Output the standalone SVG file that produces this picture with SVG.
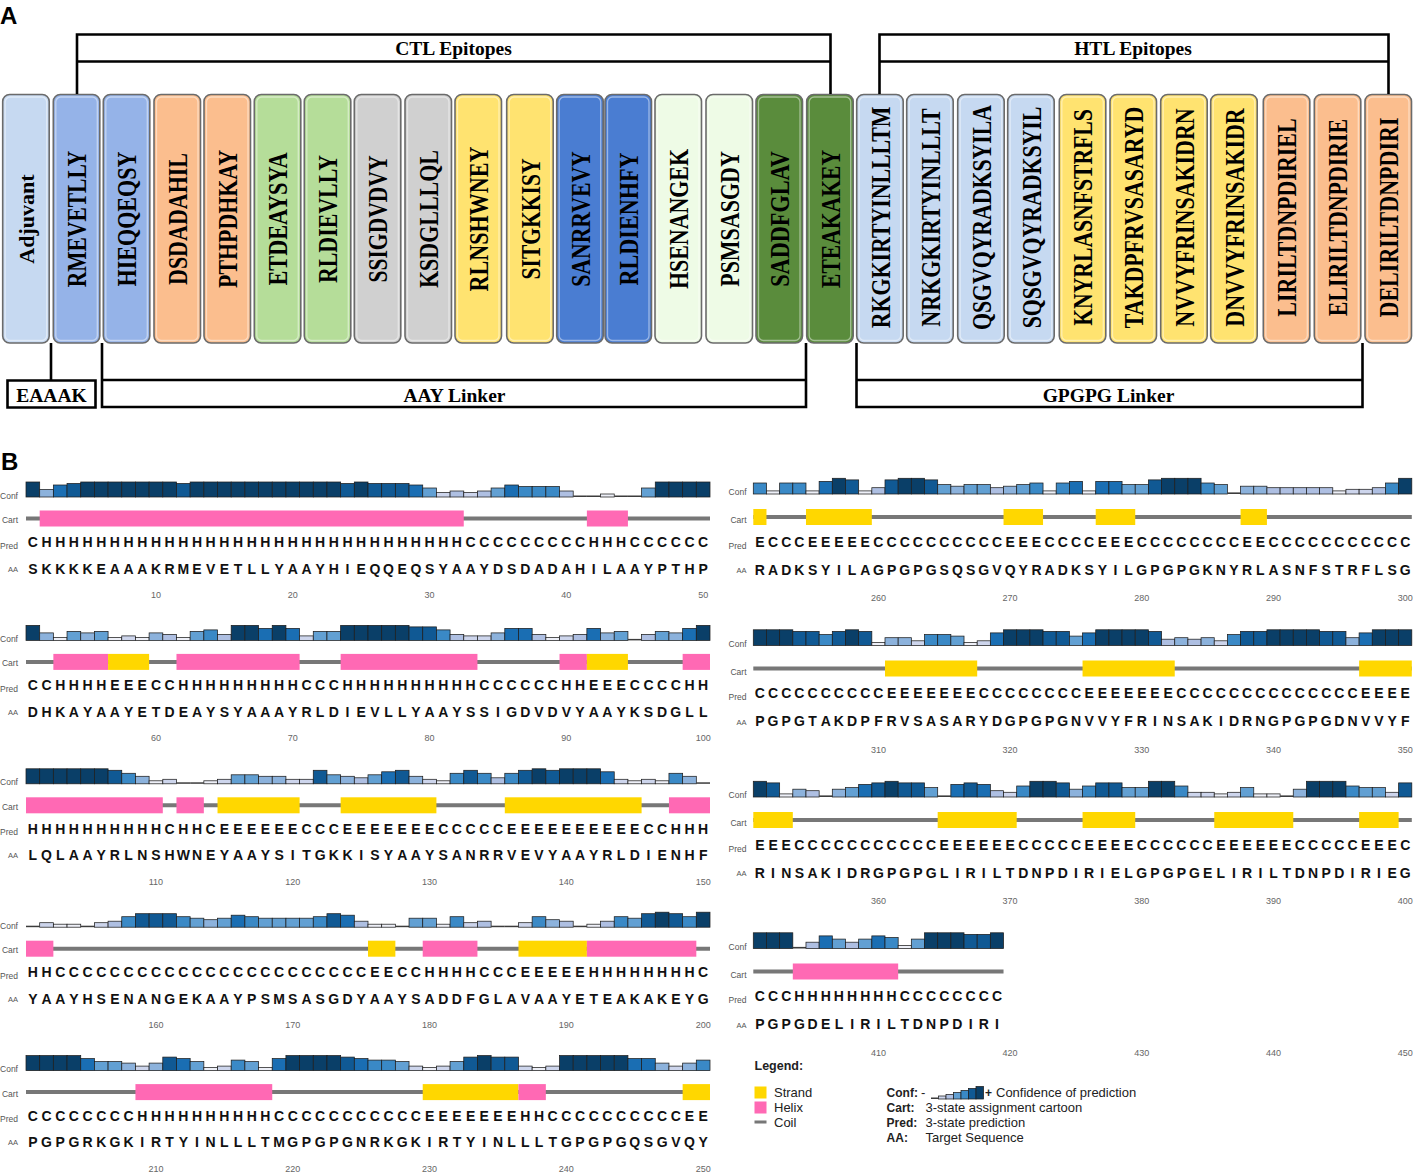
<svg xmlns="http://www.w3.org/2000/svg" width="1413" height="1172" viewBox="0 0 1413 1172">
<style>
text{font-family:"Liberation Sans",Arial,sans-serif}
.pl{font-weight:bold;font-size:24px;fill:#000}
.box{stroke:#6b6b6b;stroke-width:1.6}
.hl{fill:none;stroke:#fff;stroke-opacity:.45;stroke-width:1.3}
.ep{font-family:"Liberation Serif","Times New Roman",serif;font-weight:bold;font-size:27px;fill:#000;text-anchor:middle}
.br{fill:none;stroke:#000;stroke-width:2.6}
.bt{font-family:"Liberation Serif","Times New Roman",serif;font-weight:bold;font-size:19.5px;fill:#000;text-anchor:middle}
.lb{font-size:8.5px;fill:#555;text-anchor:end}
.seq{font-size:14px;font-weight:bold;fill:#111;text-anchor:middle}
.tk{font-size:9px;fill:#666;text-anchor:middle}
.coil{stroke:#777;stroke-width:4}
.hx{fill:#ff69b4}
.sd{fill:#ffd700}
.k0{fill:#3c3c3c}
.k1,.k2,.k3,.k4,.k5,.k6,.k7,.k8,.k9{stroke:#1e1e1e;stroke-width:.75}
.k1{fill:#eef0f8}.k2{fill:#cdd5ec}.k3{fill:#aebfe2}.k4{fill:#8cb2dc}.k5{fill:#62a0d3}
.k6{fill:#3a89c6}.k7{fill:#1a6eb3}.k8{fill:#105994}.k9{fill:#0a3f68}
.lg{font-size:13px;fill:#222}
.lgb{font-size:12px;fill:#222;font-weight:bold}
</style>
<defs>
<rect id="a0" class="k0" y="-1.5" width="13.68" height="1.5"/>
<rect id="a1" class="k1" y="-3" width="13.68" height="3"/>
<rect id="a2" class="k2" y="-4.5" width="13.68" height="4.5"/>
<rect id="a3" class="k3" y="-6" width="13.68" height="6"/>
<rect id="a4" class="k4" y="-7.5" width="13.68" height="7.5"/>
<rect id="a5" class="k5" y="-9" width="13.68" height="9"/>
<rect id="a6" class="k6" y="-10.5" width="13.68" height="10.5"/>
<rect id="a7" class="k7" y="-12" width="13.68" height="12"/>
<rect id="a8" class="k8" y="-13.5" width="13.68" height="13.5"/>
<rect id="a9" class="k9" y="-15" width="13.68" height="15"/>
<rect id="b0" class="k0" y="-1.6" width="13.17" height="1.6"/>
<rect id="b1" class="k1" y="-3.1" width="13.17" height="3.1"/>
<rect id="b2" class="k2" y="-4.7" width="13.17" height="4.7"/>
<rect id="b3" class="k3" y="-6.3" width="13.17" height="6.3"/>
<rect id="b4" class="k4" y="-7.8" width="13.17" height="7.8"/>
<rect id="b5" class="k5" y="-9.4" width="13.17" height="9.4"/>
<rect id="b6" class="k6" y="-11" width="13.17" height="11"/>
<rect id="b7" class="k7" y="-12.6" width="13.17" height="12.6"/>
<rect id="b8" class="k8" y="-14.1" width="13.17" height="14.1"/>
<rect id="b9" class="k9" y="-15.7" width="13.17" height="15.7"/>
</defs>
<rect width="1413" height="1172" fill="#fff"/>

<text class="pl" x="0" y="24">A</text>
<text class="pl" x="1" y="470">B</text>

<!-- Part A nodes -->
<g id="node-adjuvant"><rect class="box" x="2.7" y="94.5" width="46.5" height="248.5" rx="7" fill="#c6d9f1"/><rect class="hl" x="5.2" y="97" width="41.5" height="243.5" rx="5"/><text class="ep" style="font-size:22px" transform="translate(33.5,219) rotate(-90)">Adjuvant</text></g>
<g id="node-RMEVETLLY"><rect class="box" x="53.3" y="94.5" width="46.5" height="248.5" rx="7" fill="#95b3e8"/><rect class="hl" x="55.8" y="97" width="41.5" height="243.5" rx="5"/><text class="ep" transform="translate(86.2,219) rotate(-90)" textLength="136.6" lengthAdjust="spacingAndGlyphs">RMEVETLLY</text></g>
<g id="node-HIEQQEQSY"><rect class="box" x="103.3" y="94.5" width="46.5" height="248.5" rx="7" fill="#95b3e8"/><rect class="hl" x="105.8" y="97" width="41.5" height="243.5" rx="5"/><text class="ep" transform="translate(136.2,219) rotate(-90)" textLength="135" lengthAdjust="spacingAndGlyphs">HIEQQEQSY</text></g>
<g id="node-DSDADAHIL"><rect class="box" x="154" y="94.5" width="46.5" height="248.5" rx="7" fill="#fbbe8e"/><rect class="hl" x="156.5" y="97" width="41.5" height="243.5" rx="5"/><text class="ep" transform="translate(186.9,219) rotate(-90)" textLength="132" lengthAdjust="spacingAndGlyphs">DSDADAHIL</text></g>
<g id="node-PTHPDHKAY"><rect class="box" x="204" y="94.5" width="46.5" height="248.5" rx="7" fill="#fbbe8e"/><rect class="hl" x="206.5" y="97" width="41.5" height="243.5" rx="5"/><text class="ep" transform="translate(236.9,219) rotate(-90)" textLength="138" lengthAdjust="spacingAndGlyphs">PTHPDHKAY</text></g>
<g id="node-ETDEAYSYA"><rect class="box" x="254.3" y="94.5" width="46.5" height="248.5" rx="7" fill="#b5dd99"/><rect class="hl" x="256.8" y="97" width="41.5" height="243.5" rx="5"/><text class="ep" transform="translate(287.2,219) rotate(-90)" textLength="133" lengthAdjust="spacingAndGlyphs">ETDEAYSYA</text></g>
<g id="node-RLDIEVLLY"><rect class="box" x="304.3" y="94.5" width="46.5" height="248.5" rx="7" fill="#b5dd99"/><rect class="hl" x="306.8" y="97" width="41.5" height="243.5" rx="5"/><text class="ep" transform="translate(337.2,219) rotate(-90)" textLength="128" lengthAdjust="spacingAndGlyphs">RLDIEVLLY</text></g>
<g id="node-SSIGDVDVY"><rect class="box" x="354.3" y="94.5" width="46.5" height="248.5" rx="7" fill="#d0d0d0"/><rect class="hl" x="356.8" y="97" width="41.5" height="243.5" rx="5"/><text class="ep" transform="translate(387.2,219) rotate(-90)" textLength="127" lengthAdjust="spacingAndGlyphs">SSIGDVDVY</text></g>
<g id="node-KSDGLLLQL"><rect class="box" x="405" y="94.5" width="46.5" height="248.5" rx="7" fill="#d0d0d0"/><rect class="hl" x="407.5" y="97" width="41.5" height="243.5" rx="5"/><text class="ep" transform="translate(437.9,219) rotate(-90)" textLength="138" lengthAdjust="spacingAndGlyphs">KSDGLLLQL</text></g>
<g id="node-RLNSHWNEY"><rect class="box" x="455" y="94.5" width="46.5" height="248.5" rx="7" fill="#ffe370"/><rect class="hl" x="457.5" y="97" width="41.5" height="243.5" rx="5"/><text class="ep" transform="translate(487.9,219) rotate(-90)" textLength="145" lengthAdjust="spacingAndGlyphs">RLNSHWNEY</text></g>
<g id="node-SITGKKISY"><rect class="box" x="506.7" y="94.5" width="46.5" height="248.5" rx="7" fill="#ffe370"/><rect class="hl" x="509.2" y="97" width="41.5" height="243.5" rx="5"/><text class="ep" transform="translate(539.6,219) rotate(-90)" textLength="121" lengthAdjust="spacingAndGlyphs">SITGKKISY</text></g>
<g id="node-SANRRVEVY"><rect class="box" x="556.7" y="94.5" width="46.5" height="248.5" rx="7" fill="#4a7dd2"/><rect class="hl" x="559.2" y="97" width="41.5" height="243.5" rx="5"/><text class="ep" transform="translate(589.6,219) rotate(-90)" textLength="135.6" lengthAdjust="spacingAndGlyphs">SANRRVEVY</text></g>
<g id="node-RLDIENHFY"><rect class="box" x="605" y="94.5" width="46.5" height="248.5" rx="7" fill="#4a7dd2"/><rect class="hl" x="607.5" y="97" width="41.5" height="243.5" rx="5"/><text class="ep" transform="translate(637.9,219) rotate(-90)" textLength="133" lengthAdjust="spacingAndGlyphs">RLDIENHFY</text></g>
<g id="node-HSENANGEK"><rect class="box" x="655" y="94.5" width="46.5" height="248.5" rx="7" fill="#eefbe6"/><rect class="hl" x="657.5" y="97" width="41.5" height="243.5" rx="5"/><text class="ep" transform="translate(687.9,219) rotate(-90)" textLength="140" lengthAdjust="spacingAndGlyphs">HSENANGEK</text></g>
<g id="node-PSMSASGDY"><rect class="box" x="706" y="94.5" width="46.5" height="248.5" rx="7" fill="#eefbe6"/><rect class="hl" x="708.5" y="97" width="41.5" height="243.5" rx="5"/><text class="ep" transform="translate(738.9,219) rotate(-90)" textLength="135.6" lengthAdjust="spacingAndGlyphs">PSMSASGDY</text></g>
<g id="node-SADDFGLAV"><rect class="box" x="756" y="94.5" width="46.5" height="248.5" rx="7" fill="#5a8c3c"/><rect class="hl" x="758.5" y="97" width="41.5" height="243.5" rx="5"/><text class="ep" transform="translate(788.9,219) rotate(-90)" textLength="135.6" lengthAdjust="spacingAndGlyphs">SADDFGLAV</text></g>
<g id="node-ETEAKAKEY"><rect class="box" x="806.7" y="94.5" width="46.5" height="248.5" rx="7" fill="#5a8c3c"/><rect class="hl" x="809.2" y="97" width="41.5" height="243.5" rx="5"/><text class="ep" transform="translate(839.6,219) rotate(-90)" textLength="138" lengthAdjust="spacingAndGlyphs">ETEAKAKEY</text></g>
<g id="node-RKGKIRTYINLLLTM"><rect class="box" x="856.7" y="94.5" width="46.5" height="248.5" rx="7" fill="#c6d9f1"/><rect class="hl" x="859.2" y="97" width="41.5" height="243.5" rx="5"/><text class="ep" transform="translate(889.6,217.5) rotate(-90)" textLength="221.7" lengthAdjust="spacingAndGlyphs">RKGKIRTYINLLLTM</text></g>
<g id="node-NRKGKIRTYINLLLT"><rect class="box" x="906.7" y="94.5" width="46.5" height="248.5" rx="7" fill="#c6d9f1"/><rect class="hl" x="909.2" y="97" width="41.5" height="243.5" rx="5"/><text class="ep" transform="translate(939.6,217.5) rotate(-90)" textLength="218.3" lengthAdjust="spacingAndGlyphs">NRKGKIRTYINLLLT</text></g>
<g id="node-QSGVQYRADKSYILA"><rect class="box" x="957.7" y="94.5" width="46.5" height="248.5" rx="7" fill="#c6d9f1"/><rect class="hl" x="960.2" y="97" width="41.5" height="243.5" rx="5"/><text class="ep" transform="translate(990.6,217.5) rotate(-90)" textLength="225" lengthAdjust="spacingAndGlyphs">QSGVQYRADKSYILA</text></g>
<g id="node-SQSGVQYRADKSYIL"><rect class="box" x="1007.7" y="94.5" width="46.5" height="248.5" rx="7" fill="#c6d9f1"/><rect class="hl" x="1010.2" y="97" width="41.5" height="243.5" rx="5"/><text class="ep" transform="translate(1040.6,217.5) rotate(-90)" textLength="221.7" lengthAdjust="spacingAndGlyphs">SQSGVQYRADKSYIL</text></g>
<g id="node-KNYRLASNFSTRFLS"><rect class="box" x="1059.3" y="94.5" width="46.5" height="248.5" rx="7" fill="#ffe370"/><rect class="hl" x="1061.8" y="97" width="41.5" height="243.5" rx="5"/><text class="ep" transform="translate(1092.2,217.5) rotate(-90)" textLength="216.7" lengthAdjust="spacingAndGlyphs">KNYRLASNFSTRFLS</text></g>
<g id="node-TAKDPFRVSASARYD"><rect class="box" x="1110" y="94.5" width="46.5" height="248.5" rx="7" fill="#ffe370"/><rect class="hl" x="1112.5" y="97" width="41.5" height="243.5" rx="5"/><text class="ep" transform="translate(1142.9,217.5) rotate(-90)" textLength="221.7" lengthAdjust="spacingAndGlyphs">TAKDPFRVSASARYD</text></g>
<g id="node-NVVYFRINSAKIDRN"><rect class="box" x="1160.7" y="94.5" width="46.5" height="248.5" rx="7" fill="#ffe370"/><rect class="hl" x="1163.2" y="97" width="41.5" height="243.5" rx="5"/><text class="ep" transform="translate(1193.6,217.5) rotate(-90)" textLength="218.3" lengthAdjust="spacingAndGlyphs">NVVYFRINSAKIDRN</text></g>
<g id="node-DNVVYFRINSAKIDR"><rect class="box" x="1210.7" y="94.5" width="46.5" height="248.5" rx="7" fill="#ffe370"/><rect class="hl" x="1213.2" y="97" width="41.5" height="243.5" rx="5"/><text class="ep" transform="translate(1243.6,217.5) rotate(-90)" textLength="218.3" lengthAdjust="spacingAndGlyphs">DNVVYFRINSAKIDR</text></g>
<g id="node-LIRILTDNPDIRIEL"><rect class="box" x="1263.3" y="94.5" width="46.5" height="248.5" rx="7" fill="#fbbe8e"/><rect class="hl" x="1265.8" y="97" width="41.5" height="243.5" rx="5"/><text class="ep" transform="translate(1296.2,217.5) rotate(-90)" textLength="198.3" lengthAdjust="spacingAndGlyphs">LIRILTDNPDIRIEL</text></g>
<g id="node-ELIRILTDNPDIRIE"><rect class="box" x="1314.3" y="94.5" width="46.5" height="248.5" rx="7" fill="#fbbe8e"/><rect class="hl" x="1316.8" y="97" width="41.5" height="243.5" rx="5"/><text class="ep" transform="translate(1347.2,217.5) rotate(-90)" textLength="197.3" lengthAdjust="spacingAndGlyphs">ELIRILTDNPDIRIE</text></g>
<g id="node-DELIRILTDNPDIRI"><rect class="box" x="1365" y="94.5" width="46.5" height="248.5" rx="7" fill="#fbbe8e"/><rect class="hl" x="1367.5" y="97" width="41.5" height="243.5" rx="5"/><text class="ep" transform="translate(1397.9,217.5) rotate(-90)" textLength="200" lengthAdjust="spacingAndGlyphs">DELIRILTDNPDIRI</text></g>

<!-- Part A connectors / brackets -->
<g id="connectors">
<path class="br" d="M77,94 V34.5 H830.5 V94 M77,61.5 H830.5"/>
<path class="br" d="M879.5,94 V34.5 H1388.5 V94 M879.5,61.5 H1388.5"/>
<path class="br" d="M51,343 V380.5 M7.5,380.5 H95.5 V407.5 H7.5 Z"/>
<path class="br" d="M102,343 V407 H806 V343 M102,380 H806"/>
<path class="br" d="M856.5,343 V407 H1362.5 V343 M856.5,380 H1362.5"/>
<text class="bt" x="453.5" y="54.5">CTL Epitopes</text>
<text class="bt" x="1133" y="54.5">HTL Epitopes</text>
<text class="bt" x="51.5" y="401.5">EAAAK</text>
<text class="bt" x="454.5" y="401.5">AAY Linker</text>
<text class="bt" x="1108.5" y="401.5">GPGPG Linker</text>
</g>

<!-- Part B rows, left column -->
<g id="row-1-50" transform="translate(26,497)">
<text class="lb" x="-8" y="1.5">Conf</text><text class="lb" x="-8" y="26">Cart</text><text class="lb" x="-8" y="51.5">Pred</text><text class="lb" x="-8" y="74.5" style="font-size:7.5px">AA</text>
<use href="#a9" x="0"/><use href="#a4" x="13.68"/><use href="#a7" x="27.36"/><use href="#a8" x="41.04"/><use href="#a9" x="54.72"/><use href="#a9" x="68.4"/><use href="#a9" x="82.08"/><use href="#a9" x="95.76"/><use href="#a9" x="109.44"/><use href="#a9" x="123.12"/>
<use href="#a9" x="136.8"/><use href="#a8" x="150.48"/><use href="#a9" x="164.16"/><use href="#a9" x="177.84"/><use href="#a9" x="191.52"/><use href="#a9" x="205.2"/><use href="#a9" x="218.88"/><use href="#a9" x="232.56"/><use href="#a9" x="246.24"/><use href="#a9" x="259.92"/>
<use href="#a9" x="273.6"/><use href="#a9" x="287.28"/><use href="#a9" x="300.96"/><use href="#a8" x="314.64"/><use href="#a9" x="328.32"/><use href="#a8" x="342"/><use href="#a8" x="355.68"/><use href="#a8" x="369.36"/><use href="#a7" x="383.04"/><use href="#a5" x="396.72"/>
<use href="#a2" x="410.4"/><use href="#a3" x="424.08"/><use href="#a2" x="437.76"/><use href="#a3" x="451.44"/><use href="#a5" x="465.12"/><use href="#a7" x="478.8"/><use href="#a6" x="492.48"/><use href="#a6" x="506.16"/><use href="#a6" x="519.84"/><use href="#a3" x="533.52"/>
<use href="#a0" x="547.2"/><use href="#a0" x="560.88"/><use href="#a1" x="574.56"/><use href="#a0" x="588.24"/><use href="#a0" x="601.92"/><use href="#a5" x="615.6"/><use href="#a9" x="629.28"/><use href="#a9" x="642.96"/><use href="#a9" x="656.64"/><use href="#a9" x="670.32"/>
<line class="coil" x1="0" y1="21.5" x2="684" y2="21.5"/>
<rect class="hx" x="13.68" y="13.5" width="424.08" height="16"/><rect class="hx" x="560.88" y="13.5" width="41.04" height="16"/>
<text class="seq" y="50" x="6.84 20.52 34.2 47.88 61.56 75.24 88.92 102.6 116.28 129.96 143.64 157.32 171 184.68 198.36 212.04 225.72 239.4 253.08 266.76 280.44 294.12 307.8 321.48 335.16 348.84 362.52 376.2 389.88 403.56 417.24 430.92 444.6 458.28 471.96 485.64 499.32 513 526.68 540.36 554.04 567.72 581.4 595.08 608.76 622.44 636.12 649.8 663.48 677.16">CHHHHHHHHHHHHHHHHHHHHHHHHHHHHHHHCCCCCCCCCHHHCCCCCC</text>
<text class="seq" y="76.5" x="6.84 20.52 34.2 47.88 61.56 75.24 88.92 102.6 116.28 129.96 143.64 157.32 171 184.68 198.36 212.04 225.72 239.4 253.08 266.76 280.44 294.12 307.8 321.48 335.16 348.84 362.52 376.2 389.88 403.56 417.24 430.92 444.6 458.28 471.96 485.64 499.32 513 526.68 540.36 554.04 567.72 581.4 595.08 608.76 622.44 636.12 649.8 663.48 677.16">SKKKKEAAAKRMEVETLLYAAYHIEQQEQSYAAYDSDADAHILAAYPTHP</text>
<text class="tk" x="129.96" y="101">10</text><text class="tk" x="266.76" y="101">20</text><text class="tk" x="403.56" y="101">30</text><text class="tk" x="540.36" y="101">40</text><text class="tk" x="677.16" y="101">50</text>
</g>

<g id="row-51-100" transform="translate(26,640.4)">
<text class="lb" x="-8" y="1.5">Conf</text><text class="lb" x="-8" y="26">Cart</text><text class="lb" x="-8" y="51.5">Pred</text><text class="lb" x="-8" y="74.5" style="font-size:7.5px">AA</text>
<use href="#a9" x="0"/><use href="#a4" x="13.68"/><use href="#a1" x="27.36"/><use href="#a5" x="41.04"/><use href="#a4" x="54.72"/><use href="#a5" x="68.4"/><use href="#a1" x="82.08"/><use href="#a2" x="95.76"/><use href="#a1" x="109.44"/><use href="#a4" x="123.12"/>
<use href="#a3" x="136.8"/><use href="#a1" x="150.48"/><use href="#a5" x="164.16"/><use href="#a6" x="177.84"/><use href="#a3" x="191.52"/><use href="#a9" x="205.2"/><use href="#a9" x="218.88"/><use href="#a7" x="232.56"/><use href="#a9" x="246.24"/><use href="#a7" x="259.92"/>
<use href="#a2" x="273.6"/><use href="#a5" x="287.28"/><use href="#a5" x="300.96"/><use href="#a9" x="314.64"/><use href="#a9" x="328.32"/><use href="#a9" x="342"/><use href="#a9" x="355.68"/><use href="#a9" x="369.36"/><use href="#a8" x="383.04"/><use href="#a8" x="396.72"/>
<use href="#a6" x="410.4"/><use href="#a3" x="424.08"/><use href="#a2" x="437.76"/><use href="#a2" x="451.44"/><use href="#a4" x="465.12"/><use href="#a7" x="478.8"/><use href="#a7" x="492.48"/><use href="#a3" x="506.16"/><use href="#a1" x="519.84"/><use href="#a2" x="533.52"/>
<use href="#a3" x="547.2"/><use href="#a7" x="560.88"/><use href="#a4" x="574.56"/><use href="#a5" x="588.24"/><use href="#a0" x="601.92"/><use href="#a3" x="615.6"/><use href="#a5" x="629.28"/><use href="#a4" x="642.96"/><use href="#a7" x="656.64"/><use href="#a9" x="670.32"/>
<line class="coil" x1="0" y1="21.5" x2="684" y2="21.5"/>
<rect class="hx" x="27.36" y="13.5" width="54.72" height="16"/><rect class="sd" x="82.08" y="13.5" width="41.04" height="16"/><rect class="hx" x="150.48" y="13.5" width="123.12" height="16"/><rect class="hx" x="314.64" y="13.5" width="136.8" height="16"/><rect class="hx" x="533.52" y="13.5" width="27.36" height="16"/><rect class="sd" x="560.88" y="13.5" width="41.04" height="16"/><rect class="hx" x="656.64" y="13.5" width="27.36" height="16"/>
<text class="seq" y="50" x="6.84 20.52 34.2 47.88 61.56 75.24 88.92 102.6 116.28 129.96 143.64 157.32 171 184.68 198.36 212.04 225.72 239.4 253.08 266.76 280.44 294.12 307.8 321.48 335.16 348.84 362.52 376.2 389.88 403.56 417.24 430.92 444.6 458.28 471.96 485.64 499.32 513 526.68 540.36 554.04 567.72 581.4 595.08 608.76 622.44 636.12 649.8 663.48 677.16">CCHHHHEEECCHHHHHHHHHCCCHHHHHHHHHHCCCCCCHHEEECCCCHH</text>
<text class="seq" y="76.5" x="6.84 20.52 34.2 47.88 61.56 75.24 88.92 102.6 116.28 129.96 143.64 157.32 171 184.68 198.36 212.04 225.72 239.4 253.08 266.76 280.44 294.12 307.8 321.48 335.16 348.84 362.52 376.2 389.88 403.56 417.24 430.92 444.6 458.28 471.96 485.64 499.32 513 526.68 540.36 554.04 567.72 581.4 595.08 608.76 622.44 636.12 649.8 663.48 677.16">DHKAYAAYETDEAYSYAAAYRLDIEVLLYAAYSSIGDVDVYAAYKSDGLL</text>
<text class="tk" x="129.96" y="101">60</text><text class="tk" x="266.76" y="101">70</text><text class="tk" x="403.56" y="101">80</text><text class="tk" x="540.36" y="101">90</text><text class="tk" x="677.16" y="101">100</text>
</g>

<g id="row-101-150" transform="translate(26,783.8)">
<text class="lb" x="-8" y="1.5">Conf</text><text class="lb" x="-8" y="26">Cart</text><text class="lb" x="-8" y="51.5">Pred</text><text class="lb" x="-8" y="74.5" style="font-size:7.5px">AA</text>
<use href="#a9" x="0"/><use href="#a9" x="13.68"/><use href="#a9" x="27.36"/><use href="#a9" x="41.04"/><use href="#a9" x="54.72"/><use href="#a9" x="68.4"/><use href="#a8" x="82.08"/><use href="#a6" x="95.76"/><use href="#a4" x="109.44"/><use href="#a1" x="123.12"/>
<use href="#a2" x="136.8"/><use href="#a0" x="150.48"/><use href="#a0" x="164.16"/><use href="#a1" x="177.84"/><use href="#a2" x="191.52"/><use href="#a5" x="205.2"/><use href="#a5" x="218.88"/><use href="#a4" x="232.56"/><use href="#a4" x="246.24"/><use href="#a2" x="259.92"/>
<use href="#a2" x="273.6"/><use href="#a8" x="287.28"/><use href="#a5" x="300.96"/><use href="#a4" x="314.64"/><use href="#a3" x="328.32"/><use href="#a5" x="342"/><use href="#a7" x="355.68"/><use href="#a8" x="369.36"/><use href="#a4" x="383.04"/><use href="#a2" x="396.72"/>
<use href="#a1" x="410.4"/><use href="#a6" x="424.08"/><use href="#a8" x="437.76"/><use href="#a6" x="451.44"/><use href="#a3" x="465.12"/><use href="#a6" x="478.8"/><use href="#a8" x="492.48"/><use href="#a9" x="506.16"/><use href="#a8" x="519.84"/><use href="#a9" x="533.52"/>
<use href="#a9" x="547.2"/><use href="#a9" x="560.88"/><use href="#a7" x="574.56"/><use href="#a2" x="588.24"/><use href="#a1" x="601.92"/><use href="#a2" x="615.6"/><use href="#a1" x="629.28"/><use href="#a6" x="642.96"/><use href="#a4" x="656.64"/><use href="#a0" x="670.32"/>
<line class="coil" x1="0" y1="21.5" x2="684" y2="21.5"/>
<rect class="hx" x="0" y="13.5" width="136.8" height="16"/><rect class="hx" x="150.48" y="13.5" width="27.36" height="16"/><rect class="sd" x="191.52" y="13.5" width="82.08" height="16"/><rect class="sd" x="314.64" y="13.5" width="95.76" height="16"/><rect class="sd" x="478.8" y="13.5" width="136.8" height="16"/><rect class="hx" x="642.96" y="13.5" width="41.04" height="16"/>
<text class="seq" y="50" x="6.84 20.52 34.2 47.88 61.56 75.24 88.92 102.6 116.28 129.96 143.64 157.32 171 184.68 198.36 212.04 225.72 239.4 253.08 266.76 280.44 294.12 307.8 321.48 335.16 348.84 362.52 376.2 389.88 403.56 417.24 430.92 444.6 458.28 471.96 485.64 499.32 513 526.68 540.36 554.04 567.72 581.4 595.08 608.76 622.44 636.12 649.8 663.48 677.16">HHHHHHHHHHCHHCEEEEEECCCEEEEEEECCCCCEEEEEEEEEECCHHH</text>
<text class="seq" y="76.5" x="6.84 20.52 34.2 47.88 61.56 75.24 88.92 102.6 116.28 129.96 143.64 157.32 171 184.68 198.36 212.04 225.72 239.4 253.08 266.76 280.44 294.12 307.8 321.48 335.16 348.84 362.52 376.2 389.88 403.56 417.24 430.92 444.6 458.28 471.96 485.64 499.32 513 526.68 540.36 554.04 567.72 581.4 595.08 608.76 622.44 636.12 649.8 663.48 677.16">LQLAAYRLNSHWNEYAAYSITGKKISYAAYSANRRVEVYAAYRLDIENHF</text>
<text class="tk" x="129.96" y="101">110</text><text class="tk" x="266.76" y="101">120</text><text class="tk" x="403.56" y="101">130</text><text class="tk" x="540.36" y="101">140</text><text class="tk" x="677.16" y="101">150</text>
</g>

<g id="row-151-200" transform="translate(26,927.2)">
<text class="lb" x="-8" y="1.5">Conf</text><text class="lb" x="-8" y="26">Cart</text><text class="lb" x="-8" y="51.5">Pred</text><text class="lb" x="-8" y="74.5" style="font-size:7.5px">AA</text>
<use href="#a0" x="0"/><use href="#a2" x="13.68"/><use href="#a1" x="27.36"/><use href="#a1" x="41.04"/><use href="#a0" x="54.72"/><use href="#a2" x="68.4"/><use href="#a3" x="82.08"/><use href="#a6" x="95.76"/><use href="#a8" x="109.44"/><use href="#a8" x="123.12"/>
<use href="#a8" x="136.8"/><use href="#a6" x="150.48"/><use href="#a5" x="164.16"/><use href="#a4" x="177.84"/><use href="#a5" x="191.52"/><use href="#a7" x="205.2"/><use href="#a6" x="218.88"/><use href="#a5" x="232.56"/><use href="#a5" x="246.24"/><use href="#a5" x="259.92"/>
<use href="#a5" x="273.6"/><use href="#a6" x="287.28"/><use href="#a8" x="300.96"/><use href="#a7" x="314.64"/><use href="#a3" x="328.32"/><use href="#a1" x="342"/><use href="#a1" x="355.68"/><use href="#a0" x="369.36"/><use href="#a5" x="383.04"/><use href="#a5" x="396.72"/>
<use href="#a1" x="410.4"/><use href="#a6" x="424.08"/><use href="#a2" x="437.76"/><use href="#a3" x="451.44"/><use href="#a0" x="465.12"/><use href="#a0" x="478.8"/><use href="#a2" x="492.48"/><use href="#a6" x="506.16"/><use href="#a4" x="519.84"/><use href="#a3" x="533.52"/>
<use href="#a0" x="547.2"/><use href="#a1" x="560.88"/><use href="#a3" x="574.56"/><use href="#a6" x="588.24"/><use href="#a5" x="601.92"/><use href="#a8" x="615.6"/><use href="#a9" x="629.28"/><use href="#a8" x="642.96"/><use href="#a6" x="656.64"/><use href="#a9" x="670.32"/>
<line class="coil" x1="0" y1="21.5" x2="684" y2="21.5"/>
<rect class="hx" x="0" y="13.5" width="27.36" height="16"/><rect class="sd" x="342" y="13.5" width="27.36" height="16"/><rect class="hx" x="396.72" y="13.5" width="54.72" height="16"/><rect class="sd" x="492.48" y="13.5" width="68.4" height="16"/><rect class="hx" x="560.88" y="13.5" width="109.44" height="16"/>
<text class="seq" y="50" x="6.84 20.52 34.2 47.88 61.56 75.24 88.92 102.6 116.28 129.96 143.64 157.32 171 184.68 198.36 212.04 225.72 239.4 253.08 266.76 280.44 294.12 307.8 321.48 335.16 348.84 362.52 376.2 389.88 403.56 417.24 430.92 444.6 458.28 471.96 485.64 499.32 513 526.68 540.36 554.04 567.72 581.4 595.08 608.76 622.44 636.12 649.8 663.48 677.16">HHCCCCCCCCCCCCCCCCCCCCCCCEECCHHHHCCCEEEEEHHHHHHHHC</text>
<text class="seq" y="76.5" x="6.84 20.52 34.2 47.88 61.56 75.24 88.92 102.6 116.28 129.96 143.64 157.32 171 184.68 198.36 212.04 225.72 239.4 253.08 266.76 280.44 294.12 307.8 321.48 335.16 348.84 362.52 376.2 389.88 403.56 417.24 430.92 444.6 458.28 471.96 485.64 499.32 513 526.68 540.36 554.04 567.72 581.4 595.08 608.76 622.44 636.12 649.8 663.48 677.16">YAAYHSENANGEKAAYPSMSASGDYAAYSADDFGLAVAAYETEAKAKEYG</text>
<text class="tk" x="129.96" y="101">160</text><text class="tk" x="266.76" y="101">170</text><text class="tk" x="403.56" y="101">180</text><text class="tk" x="540.36" y="101">190</text><text class="tk" x="677.16" y="101">200</text>
</g>

<g id="row-201-250" transform="translate(26,1070.6)">
<text class="lb" x="-8" y="1.5">Conf</text><text class="lb" x="-8" y="26">Cart</text><text class="lb" x="-8" y="51.5">Pred</text><text class="lb" x="-8" y="74.5" style="font-size:7.5px">AA</text>
<use href="#a9" x="0"/><use href="#a9" x="13.68"/><use href="#a9" x="27.36"/><use href="#a9" x="41.04"/><use href="#a7" x="54.72"/><use href="#a5" x="68.4"/><use href="#a5" x="82.08"/><use href="#a4" x="95.76"/><use href="#a2" x="109.44"/><use href="#a4" x="123.12"/>
<use href="#a8" x="136.8"/><use href="#a7" x="150.48"/><use href="#a5" x="164.16"/><use href="#a1" x="177.84"/><use href="#a2" x="191.52"/><use href="#a6" x="205.2"/><use href="#a5" x="218.88"/><use href="#a1" x="232.56"/><use href="#a7" x="246.24"/><use href="#a9" x="259.92"/>
<use href="#a9" x="273.6"/><use href="#a9" x="287.28"/><use href="#a9" x="300.96"/><use href="#a8" x="314.64"/><use href="#a7" x="328.32"/><use href="#a6" x="342"/><use href="#a6" x="355.68"/><use href="#a5" x="369.36"/><use href="#a2" x="383.04"/><use href="#a1" x="396.72"/>
<use href="#a2" x="410.4"/><use href="#a5" x="424.08"/><use href="#a8" x="437.76"/><use href="#a9" x="451.44"/><use href="#a8" x="465.12"/><use href="#a8" x="478.8"/><use href="#a2" x="492.48"/><use href="#a1" x="506.16"/><use href="#a2" x="519.84"/><use href="#a9" x="533.52"/>
<use href="#a9" x="547.2"/><use href="#a9" x="560.88"/><use href="#a9" x="574.56"/><use href="#a9" x="588.24"/><use href="#a7" x="601.92"/><use href="#a7" x="615.6"/><use href="#a4" x="629.28"/><use href="#a2" x="642.96"/><use href="#a4" x="656.64"/><use href="#a6" x="670.32"/>
<line class="coil" x1="0" y1="21.5" x2="684" y2="21.5"/>
<rect class="hx" x="109.44" y="13.5" width="136.8" height="16"/><rect class="sd" x="396.72" y="13.5" width="95.76" height="16"/><rect class="hx" x="492.48" y="13.5" width="27.36" height="16"/><rect class="sd" x="656.64" y="13.5" width="27.36" height="16"/>
<text class="seq" y="50" x="6.84 20.52 34.2 47.88 61.56 75.24 88.92 102.6 116.28 129.96 143.64 157.32 171 184.68 198.36 212.04 225.72 239.4 253.08 266.76 280.44 294.12 307.8 321.48 335.16 348.84 362.52 376.2 389.88 403.56 417.24 430.92 444.6 458.28 471.96 485.64 499.32 513 526.68 540.36 554.04 567.72 581.4 595.08 608.76 622.44 636.12 649.8 663.48 677.16">CCCCCCCCHHHHHHHHHHCCCCCCCCCCCEEEEEEEHHCCCCCCCCCCEE</text>
<text class="seq" y="76.5" x="6.84 20.52 34.2 47.88 61.56 75.24 88.92 102.6 116.28 129.96 143.64 157.32 171 184.68 198.36 212.04 225.72 239.4 253.08 266.76 280.44 294.12 307.8 321.48 335.16 348.84 362.52 376.2 389.88 403.56 417.24 430.92 444.6 458.28 471.96 485.64 499.32 513 526.68 540.36 554.04 567.72 581.4 595.08 608.76 622.44 636.12 649.8 663.48 677.16">PGPGRKGKIRTYINLLLTMGPGPGNRKGKIRTYINLLLTGPGPGQSGVQY</text>
<text class="tk" x="129.96" y="101">210</text><text class="tk" x="266.76" y="101">220</text><text class="tk" x="403.56" y="101">230</text><text class="tk" x="540.36" y="101">240</text><text class="tk" x="677.16" y="101">250</text>
</g>

<!-- Part B rows, right column -->
<g id="row-251-300" transform="translate(753.3,494)">
<text class="lb" x="-6.8" y="1">Conf</text><text class="lb" x="-6.8" y="29">Cart</text><text class="lb" x="-6.8" y="54.5">Pred</text><text class="lb" x="-6.8" y="79" style="font-size:7.5px">AA</text>
<use href="#b6" x="0"/><use href="#b1" x="13.17"/><use href="#b6" x="26.34"/><use href="#b6" x="39.51"/><use href="#b1" x="52.68"/><use href="#b7" x="65.85"/><use href="#b9" x="79.02"/><use href="#b8" x="92.19"/><use href="#b1" x="105.36"/><use href="#b3" x="118.53"/>
<use href="#b8" x="131.7"/><use href="#b9" x="144.87"/><use href="#b9" x="158.04"/><use href="#b8" x="171.21"/><use href="#b5" x="184.38"/><use href="#b4" x="197.55"/><use href="#b5" x="210.72"/><use href="#b5" x="223.89"/><use href="#b3" x="237.06"/><use href="#b4" x="250.23"/>
<use href="#b5" x="263.4"/><use href="#b6" x="276.57"/><use href="#b1" x="289.74"/><use href="#b6" x="302.91"/><use href="#b7" x="316.08"/><use href="#b1" x="329.25"/><use href="#b7" x="342.42"/><use href="#b7" x="355.59"/><use href="#b5" x="368.76"/><use href="#b5" x="381.93"/>
<use href="#b8" x="395.1"/><use href="#b9" x="408.27"/><use href="#b9" x="421.44"/><use href="#b9" x="434.61"/><use href="#b6" x="447.78"/><use href="#b5" x="460.95"/><use href="#b0" x="474.12"/><use href="#b4" x="487.29"/><use href="#b4" x="500.46"/><use href="#b3" x="513.63"/>
<use href="#b3" x="526.8"/><use href="#b3" x="539.97"/><use href="#b3" x="553.14"/><use href="#b3" x="566.31"/><use href="#b1" x="579.48"/><use href="#b2" x="592.65"/><use href="#b2" x="605.82"/><use href="#b3" x="618.99"/><use href="#b6" x="632.16"/><use href="#b9" x="645.33"/>
<line class="coil" x1="0" y1="23" x2="658.5" y2="23"/>
<rect class="sd" x="0" y="15" width="13.17" height="16"/><rect class="sd" x="52.68" y="15" width="65.85" height="16"/><rect class="sd" x="250.23" y="15" width="39.51" height="16"/><rect class="sd" x="342.42" y="15" width="39.51" height="16"/><rect class="sd" x="487.29" y="15" width="26.34" height="16"/>
<text class="seq" y="52.5" x="6.59 19.76 32.93 46.1 59.27 72.44 85.61 98.78 111.95 125.12 138.29 151.46 164.63 177.8 190.97 204.14 217.31 230.48 243.65 256.82 269.99 283.16 296.33 309.5 322.67 335.84 349.01 362.18 375.35 388.52 401.69 414.86 428.03 441.2 454.37 467.54 480.71 493.88 507.05 520.22 533.39 546.56 559.73 572.9 586.07 599.24 612.41 625.58 638.75 651.92">ECCCEEEEECCCCCCCCCCEEECCCCEEECCCCCCCCEECCCCCCCCCCC</text>
<text class="seq" y="80.8" x="6.59 19.76 32.93 46.1 59.27 72.44 85.61 98.78 111.95 125.12 138.29 151.46 164.63 177.8 190.97 204.14 217.31 230.48 243.65 256.82 269.99 283.16 296.33 309.5 322.67 335.84 349.01 362.18 375.35 388.52 401.69 414.86 428.03 441.2 454.37 467.54 480.71 493.88 507.05 520.22 533.39 546.56 559.73 572.9 586.07 599.24 612.41 625.58 638.75 651.92">RADKSYILAGPGPGSQSGVQYRADKSYILGPGPGKNYRLASNFSTRFLSG</text>
<text class="tk" x="125.12" y="107">260</text><text class="tk" x="256.82" y="107">270</text><text class="tk" x="388.52" y="107">280</text><text class="tk" x="520.22" y="107">290</text><text class="tk" x="651.92" y="107">300</text>
</g>

<g id="row-301-350" transform="translate(753.3,645.5)">
<text class="lb" x="-6.8" y="1">Conf</text><text class="lb" x="-6.8" y="29">Cart</text><text class="lb" x="-6.8" y="54.5">Pred</text><text class="lb" x="-6.8" y="79" style="font-size:7.5px">AA</text>
<use href="#b9" x="0"/><use href="#b9" x="13.17"/><use href="#b9" x="26.34"/><use href="#b8" x="39.51"/><use href="#b8" x="52.68"/><use href="#b6" x="65.85"/><use href="#b8" x="79.02"/><use href="#b9" x="92.19"/><use href="#b8" x="105.36"/><use href="#b1" x="118.53"/>
<use href="#b4" x="131.7"/><use href="#b4" x="144.87"/><use href="#b2" x="158.04"/><use href="#b6" x="171.21"/><use href="#b6" x="184.38"/><use href="#b5" x="197.55"/><use href="#b1" x="210.72"/><use href="#b2" x="223.89"/><use href="#b7" x="237.06"/><use href="#b9" x="250.23"/>
<use href="#b9" x="263.4"/><use href="#b9" x="276.57"/><use href="#b8" x="289.74"/><use href="#b8" x="302.91"/><use href="#b5" x="316.08"/><use href="#b7" x="329.25"/><use href="#b9" x="342.42"/><use href="#b9" x="355.59"/><use href="#b9" x="368.76"/><use href="#b9" x="381.93"/>
<use href="#b8" x="395.1"/><use href="#b3" x="408.27"/><use href="#b4" x="421.44"/><use href="#b3" x="434.61"/><use href="#b4" x="447.78"/><use href="#b2" x="460.95"/><use href="#b6" x="474.12"/><use href="#b8" x="487.29"/><use href="#b8" x="500.46"/><use href="#b9" x="513.63"/>
<use href="#b9" x="526.8"/><use href="#b9" x="539.97"/><use href="#b9" x="553.14"/><use href="#b8" x="566.31"/><use href="#b8" x="579.48"/><use href="#b4" x="592.65"/><use href="#b7" x="605.82"/><use href="#b9" x="618.99"/><use href="#b9" x="632.16"/><use href="#b9" x="645.33"/>
<line class="coil" x1="0" y1="23" x2="658.5" y2="23"/>
<rect class="sd" x="131.7" y="15" width="92.19" height="16"/><rect class="sd" x="329.25" y="15" width="92.19" height="16"/><rect class="sd" x="605.82" y="15" width="52.68" height="16"/>
<text class="seq" y="52.5" x="6.59 19.76 32.93 46.1 59.27 72.44 85.61 98.78 111.95 125.12 138.29 151.46 164.63 177.8 190.97 204.14 217.31 230.48 243.65 256.82 269.99 283.16 296.33 309.5 322.67 335.84 349.01 362.18 375.35 388.52 401.69 414.86 428.03 441.2 454.37 467.54 480.71 493.88 507.05 520.22 533.39 546.56 559.73 572.9 586.07 599.24 612.41 625.58 638.75 651.92">CCCCCCCCCCEEEEEEECCCCCCCCEEEEEEECCCCCCCCCCCCCCEEEE</text>
<text class="seq" y="80.8" x="6.59 19.76 32.93 46.1 59.27 72.44 85.61 98.78 111.95 125.12 138.29 151.46 164.63 177.8 190.97 204.14 217.31 230.48 243.65 256.82 269.99 283.16 296.33 309.5 322.67 335.84 349.01 362.18 375.35 388.52 401.69 414.86 428.03 441.2 454.37 467.54 480.71 493.88 507.05 520.22 533.39 546.56 559.73 572.9 586.07 599.24 612.41 625.58 638.75 651.92">PGPGTAKDPFRVSASARYDGPGPGNVVYFRINSAKIDRNGPGPGDNVVYF</text>
<text class="tk" x="125.12" y="107">310</text><text class="tk" x="256.82" y="107">320</text><text class="tk" x="388.52" y="107">330</text><text class="tk" x="520.22" y="107">340</text><text class="tk" x="651.92" y="107">350</text>
</g>

<g id="row-351-400" transform="translate(753.3,797)">
<text class="lb" x="-6.8" y="1">Conf</text><text class="lb" x="-6.8" y="29">Cart</text><text class="lb" x="-6.8" y="54.5">Pred</text><text class="lb" x="-6.8" y="79" style="font-size:7.5px">AA</text>
<use href="#b9" x="0"/><use href="#b8" x="13.17"/><use href="#b1" x="26.34"/><use href="#b4" x="39.51"/><use href="#b3" x="52.68"/><use href="#b0" x="65.85"/><use href="#b4" x="79.02"/><use href="#b5" x="92.19"/><use href="#b7" x="105.36"/><use href="#b8" x="118.53"/>
<use href="#b9" x="131.7"/><use href="#b8" x="144.87"/><use href="#b8" x="158.04"/><use href="#b5" x="171.21"/><use href="#b0" x="184.38"/><use href="#b7" x="197.55"/><use href="#b8" x="210.72"/><use href="#b7" x="223.89"/><use href="#b3" x="237.06"/><use href="#b2" x="250.23"/>
<use href="#b6" x="263.4"/><use href="#b9" x="276.57"/><use href="#b9" x="289.74"/><use href="#b8" x="302.91"/><use href="#b4" x="316.08"/><use href="#b6" x="329.25"/><use href="#b8" x="342.42"/><use href="#b8" x="355.59"/><use href="#b5" x="368.76"/><use href="#b5" x="381.93"/>
<use href="#b9" x="395.1"/><use href="#b9" x="408.27"/><use href="#b6" x="421.44"/><use href="#b2" x="434.61"/><use href="#b2" x="447.78"/><use href="#b1" x="460.95"/><use href="#b2" x="474.12"/><use href="#b5" x="487.29"/><use href="#b1" x="500.46"/><use href="#b1" x="513.63"/>
<use href="#b0" x="526.8"/><use href="#b4" x="539.97"/><use href="#b9" x="553.14"/><use href="#b9" x="566.31"/><use href="#b9" x="579.48"/><use href="#b6" x="592.65"/><use href="#b5" x="605.82"/><use href="#b5" x="618.99"/><use href="#b2" x="632.16"/><use href="#b8" x="645.33"/>
<line class="coil" x1="0" y1="23" x2="658.5" y2="23"/>
<rect class="sd" x="0" y="15" width="39.51" height="16"/><rect class="sd" x="184.38" y="15" width="79.02" height="16"/><rect class="sd" x="329.25" y="15" width="52.68" height="16"/><rect class="sd" x="460.95" y="15" width="79.02" height="16"/><rect class="sd" x="605.82" y="15" width="39.51" height="16"/>
<text class="seq" y="52.5" x="6.59 19.76 32.93 46.1 59.27 72.44 85.61 98.78 111.95 125.12 138.29 151.46 164.63 177.8 190.97 204.14 217.31 230.48 243.65 256.82 269.99 283.16 296.33 309.5 322.67 335.84 349.01 362.18 375.35 388.52 401.69 414.86 428.03 441.2 454.37 467.54 480.71 493.88 507.05 520.22 533.39 546.56 559.73 572.9 586.07 599.24 612.41 625.58 638.75 651.92">EEECCCCCCCCCCCEEEEEECCCCCEEEECCCCCCEEEEEECCCCCEEEC</text>
<text class="seq" y="80.8" x="6.59 19.76 32.93 46.1 59.27 72.44 85.61 98.78 111.95 125.12 138.29 151.46 164.63 177.8 190.97 204.14 217.31 230.48 243.65 256.82 269.99 283.16 296.33 309.5 322.67 335.84 349.01 362.18 375.35 388.52 401.69 414.86 428.03 441.2 454.37 467.54 480.71 493.88 507.05 520.22 533.39 546.56 559.73 572.9 586.07 599.24 612.41 625.58 638.75 651.92">RINSAKIDRGPGPGLIRILTDNPDIRIELGPGPGELIRILTDNPDIRIEG</text>
<text class="tk" x="125.12" y="107">360</text><text class="tk" x="256.82" y="107">370</text><text class="tk" x="388.52" y="107">380</text><text class="tk" x="520.22" y="107">390</text><text class="tk" x="651.92" y="107">400</text>
</g>

<g id="row-401-419" transform="translate(753.3,948.5)">
<text class="lb" x="-6.8" y="1">Conf</text><text class="lb" x="-6.8" y="29">Cart</text><text class="lb" x="-6.8" y="54.5">Pred</text><text class="lb" x="-6.8" y="79" style="font-size:7.5px">AA</text>
<use href="#b9" x="0"/><use href="#b9" x="13.17"/><use href="#b9" x="26.34"/><use href="#b0" x="39.51"/><use href="#b3" x="52.68"/><use href="#b7" x="65.85"/><use href="#b5" x="79.02"/><use href="#b3" x="92.19"/><use href="#b5" x="105.36"/><use href="#b7" x="118.53"/>
<use href="#b6" x="131.7"/><use href="#b1" x="144.87"/><use href="#b5" x="158.04"/><use href="#b9" x="171.21"/><use href="#b9" x="184.38"/><use href="#b9" x="197.55"/><use href="#b8" x="210.72"/><use href="#b8" x="223.89"/><use href="#b9" x="237.06"/>
<line class="coil" x1="0" y1="23" x2="250.23" y2="23"/>
<rect class="hx" x="39.51" y="15" width="105.36" height="16"/>
<text class="seq" y="52.5" x="6.59 19.76 32.93 46.1 59.27 72.44 85.61 98.78 111.95 125.12 138.29 151.46 164.63 177.8 190.97 204.14 217.31 230.48 243.65">CCCHHHHHHHHCCCCCCCC</text>
<text class="seq" y="80.8" x="6.59 19.76 32.93 46.1 59.27 72.44 85.61 98.78 111.95 125.12 138.29 151.46 164.63 177.8 190.97 204.14 217.31 230.48 243.65">PGPGDELIRILTDNPDIRI</text>
<text class="tk" x="125.12" y="107">410</text><text class="tk" x="256.82" y="107">420</text><text class="tk" x="388.52" y="107">430</text><text class="tk" x="520.22" y="107">440</text><text class="tk" x="651.92" y="107">450</text>
</g>

<!-- Legend -->
<g id="legend">
<text class="lgb" x="754.5" y="1069.5" style="font-size:12.5px">Legend:</text>
<rect x="754.5" y="1086.5" width="12" height="12" fill="#ffd700"/>
<text class="lg" x="774" y="1096.5">Strand</text>
<rect x="754.5" y="1101.5" width="12" height="12" fill="#ff69b4"/>
<text class="lg" x="774" y="1112">Helix</text>
<rect x="754.5" y="1120.5" width="12" height="3" fill="#777"/>
<text class="lg" x="774" y="1127">Coil</text>
<text class="lgb" x="886.6" y="1096.5">Conf:</text>
<text class="lg" x="921" y="1096.5">-</text>
<rect class="k0" x="931" y="1097.5" width="7.5" height="1.5"/>
<rect class="k2" x="938.5" y="1096" width="7.5" height="3"/>
<rect class="k3" x="946" y="1094.5" width="7.5" height="4.5"/>
<rect class="k5" x="953.5" y="1092.5" width="7.5" height="6.5"/>
<rect class="k6" x="961" y="1090.5" width="7.5" height="8.5"/>
<rect class="k8" x="968.5" y="1088.5" width="7.5" height="10.5"/>
<rect class="k9" x="976" y="1086.5" width="7.5" height="12.5"/>
<text class="lgb" x="985" y="1096.5">+</text>
<text class="lg" x="996" y="1096.5">Confidence of prediction</text>
<text class="lgb" x="886.6" y="1111.5">Cart:</text>
<text class="lg" x="925.5" y="1111.5">3-state assignment cartoon</text>
<text class="lgb" x="886.6" y="1126.5">Pred:</text>
<text class="lg" x="925.5" y="1126.5">3-state prediction</text>
<text class="lgb" x="886.6" y="1142">AA:</text>
<text class="lg" x="925.5" y="1142">Target Sequence</text>
</g>
</svg>
